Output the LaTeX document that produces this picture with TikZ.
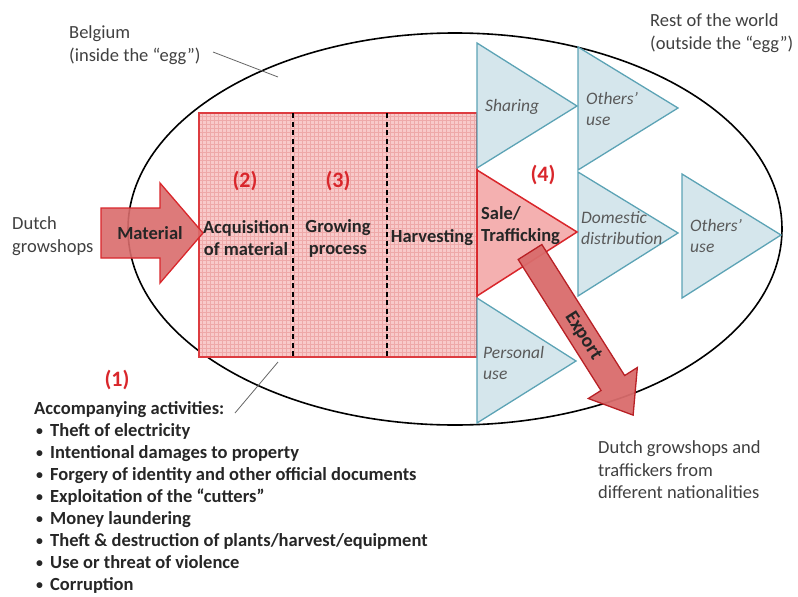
\documentclass[tikz,border=0pt]{standalone}
\usepackage{fontspec}
\setmainfont{Carlito}
\usetikzlibrary{shapes.geometric}
\definecolor{redline}{HTML}{D9262B}
\definecolor{pinkfill}{HTML}{F8CACA}
\definecolor{pinkgrid}{HTML}{EEA9A9}
\definecolor{arrowfill}{HTML}{D96C6C}
\definecolor{salefill}{HTML}{F4B0B0}
\definecolor{bluefill}{HTML}{D5E6EC}
\definecolor{blueline}{HTML}{5CA3B5}
\definecolor{greytext}{HTML}{404040}
\definecolor{itgrey}{HTML}{595959}
\tikzset{
  lbl/.style={font=\fontsize{18.5}{22.5}\selectfont, text=greytext, align=left, inner sep=0pt},
  boxlbl/.style={font=\fontsize{18.5}{22}\selectfont\bfseries, text=black!85, align=center, inner sep=0pt},
  itlbl/.style={font=\fontsize{17.5}{21}\selectfont\itshape, text=itgrey, align=left, inner sep=0pt},
  numlbl/.style={font=\fontsize{22}{24}\selectfont\bfseries, text=redline, inner sep=0pt},
  bluetri/.style={fill=bluefill, draw=blueline, line width=1.3pt, line join=miter},
  leader/.style={draw=greytext!80, line width=0.8pt},
}
\newcommand{\bul}{\makebox[16pt][l]{\hspace{2pt}\raisebox{1pt}{\scalebox{0.75}{•}}}}
\begin{document}
\begin{tikzpicture}[x=1pt,y=-1pt]
\useasboundingbox (0,0) rectangle (798,597);
% egg
\node (egg) [ellipse, draw=black, line width=1.6pt, minimum width=654pt, minimum height=392pt, inner sep=0pt] at (455,229) {};
% red rectangle
\coordinate (r1) at (199,113);
\coordinate (r2) at (477,357);
\fill[pinkfill] (r1) rectangle (r2);
\foreach \gx in {202,206,...,476} \draw[pinkgrid, line width=0.3pt] (\gx,113) -- (\gx,357);
\foreach \gy in {116,120,...,356} \draw[pinkgrid, line width=0.3pt] (199,\gy) -- (477,\gy);
\draw[redline!90, line width=1.5pt] (r1) rectangle (r2);
\coordinate (d1t) at (293,113); \coordinate (d1b) at (293,357);
\coordinate (d2t) at (387,113); \coordinate (d2b) at (387,357);
\draw[black, line width=1.5pt, dash pattern=on 5pt off 3.5pt] (d1t) -- (d1b);
\draw[black, line width=1.5pt, dash pattern=on 5pt off 3.5pt] (d2t) -- (d2b);
% blue triangles
\draw[bluetri] (477,43) -- (577,106) -- (477,168) -- cycle;
\draw[bluetri] (578,47) -- (678,108) -- (578,170) -- cycle;
\draw[bluetri] (578,172) -- (678,233) -- (578,296) -- cycle;
\draw[bluetri] (682,174) -- (781,235) -- (682,298) -- cycle;
\draw[bluetri] (477,298) -- (576,361) -- (477,423) -- cycle;
% sale triangle
\draw[fill=salefill, draw=redline, line width=1.5pt, line join=miter] (477,170) -- (577,232) -- (477,296) -- cycle;
% material arrow
\draw[fill=arrowfill, fill opacity=0.9, draw=redline, line width=1.3pt, line join=miter]
  (101,208) -- (160,208) -- (160,183) -- (203,233) -- (160,283) -- (160,258) -- (101,258) -- cycle;
% export arrow
\begin{scope}[shift={(530,252)}, rotate=-57.7]
\draw[fill=arrowfill, fill opacity=0.95, draw=redline!85!black, line width=1.3pt, line join=miter]
  (0,-14) -- (155,-14) -- (155,-29) -- (193,0) -- (155,29) -- (155,14) -- (0,14) -- cycle;
\end{scope}
\node (export) [font=\fontsize{19.5}{20}\selectfont\bfseries, text=black!85, rotate=-57.7, inner sep=0pt] at (583,336) {Export};
% box labels
\node (material) [boxlbl] at (150,233) {Material};
\node (acq) [boxlbl] at (246,238) {Acquisition\\of material};
\node (grow) [boxlbl] at (338,238) {Growing\\process};
\node (harv) [boxlbl] at (432,238) {Harvesting};
\node (sale) [boxlbl, align=left, anchor=west] at (481,226) {Sale/\\Trafficking};
\node (n2) [numlbl] at (245,181) {(2)};
\node (n3) [numlbl] at (338,181) {(3)};
\node (n4) [numlbl] at (543,175) {(4)};
\node (n1) [numlbl] at (117,380) {(1)};
% italic labels
\node (sharing) [itlbl, anchor=west] at (485,107) {Sharing};
\node (others1) [itlbl, anchor=west] at (586,109) {Others’\\use};
\node (domestic) [itlbl, anchor=west] at (581,228) {Domestic\\distribution};
\node (others2) [itlbl, anchor=west] at (690,236) {Others’\\use};
\node (personal) [itlbl, anchor=west] at (483,363) {Personal\\use};
% outside labels
\node (belgium) [lbl, anchor=west] at (69,45) {Belgium\\(inside the “egg”)};
\node (rest) [lbl, anchor=west] at (650,33) {Rest of the world\\(outside the “egg”)};
\node (dutch) [lbl, anchor=west] at (12,236) {Dutch\\growshops};
\node (dest) [lbl, anchor=west] at (598,470) {Dutch growshops and\\traffickers from\\different nationalities};
% leaders
\coordinate (bl1) at (213,52); \coordinate (bl2) at (278,77);
\draw[leader] (bl1) -- (bl2);
\coordinate (al1) at (235,413); \coordinate (al2) at (278,362);
\draw[leader] (al1) -- (al2);
% list
\node (list) [font=\fontsize{18.5}{22}\selectfont\bfseries, text=black!85, align=left, anchor=north west, inner sep=0pt] at (34,401) {%
Accompanying activities:\\
\bul Theft of electricity\\
\bul Intentional damages to property\\
\bul Forgery of identity and other official documents\\
\bul Exploitation of the “cutters”\\
\bul Money laundering\\
\bul Theft \& destruction of plants/harvest/equipment\\
\bul Use or threat of violence\\
\bul Corruption};
\end{tikzpicture}
\end{document}
